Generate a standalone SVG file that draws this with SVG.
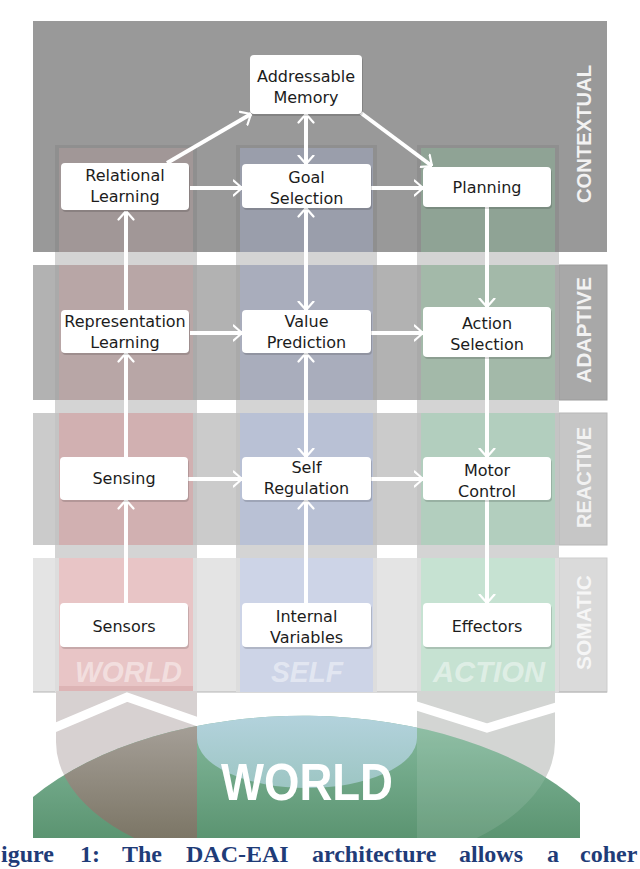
<svg xmlns="http://www.w3.org/2000/svg" width="640" height="869" viewBox="0 0 640 869">
<style>
.node rect.box{fill:#ffffff;}
.node rect.sh{fill:#000;opacity:0.14;}
.node text{font-family:"DejaVu Sans",Verdana,sans-serif;font-size:16px;fill:#1c1c1c;text-anchor:middle;}
.lay{font-family:"Liberation Sans",Arial,sans-serif;font-weight:bold;font-size:21px;text-anchor:middle;}
.col{font-family:"Liberation Sans",Arial,sans-serif;font-weight:bold;font-style:italic;font-size:30px;text-anchor:middle;fill:#ffffff;fill-opacity:0.45;}
.cap{font-family:"Liberation Serif","Times New Roman",serif;font-weight:bold;font-size:24px;fill:#1f3c78;}
#connectors line{stroke:#ffffff;stroke-width:4;fill:none;}
</style>
<defs>
<marker id="ah" markerUnits="userSpaceOnUse" viewBox="0 0 10 18" refX="9.5" refY="9" markerWidth="10" markerHeight="18" orient="auto-start-reverse">
<path d="M1,1.5 L9.5,9 L1,16.5" fill="none" stroke="#ffffff" stroke-width="2.2" stroke-linecap="round" stroke-linejoin="round"/>
</marker>
<clipPath id="dome"><path d="M33,838 L33,797 A330,191 0 0 1 580,803 L580,838 Z"/></clipPath>
<clipPath id="top838"><rect x="0" y="600" width="640" height="238"/></clipPath>
<clipPath id="wclip"><rect x="56" y="691" width="141" height="60"/></clipPath>
<clipPath id="aclip"><rect x="417" y="691" width="138" height="60"/></clipPath>
<path id="wStrip" d="M56,691 L56,742 A249.5,132 0 0 0 197,860.9 L197,691 Z"/>
<path id="aStrip" d="M417,691 L417,860.1 A249.5,132 0 0 0 555,742 L555,691 Z"/>
<linearGradient id="gGreen" x1="0" y1="0" x2="0" y2="1">
<stop offset="0" stop-color="#86bb9f"/><stop offset="1" stop-color="#5b9471"/>
</linearGradient>
<linearGradient id="gBrown" gradientUnits="userSpaceOnUse" x1="0" y1="730" x2="0" y2="838">
<stop offset="0" stop-color="#a39d95"/><stop offset="1" stop-color="#7c7666"/>
</linearGradient>
<linearGradient id="gBlue" gradientUnits="userSpaceOnUse" x1="0" y1="712" x2="0" y2="790">
<stop offset="0" stop-color="#b4d3de"/><stop offset="1" stop-color="#9cc5c2"/>
</linearGradient>
</defs>

<rect width="640" height="869" fill="#ffffff"/>

<!-- layer bands -->
<g id="bands">
<rect x="33" y="21" width="574" height="231" fill="#999999"/>
<rect x="33" y="265" width="574" height="135" fill="#b2b2b2"/>
<rect x="559" y="265" width="48" height="135" fill="#a8a8a8" stroke="#9c9c9c" stroke-width="1"/>
<rect x="33" y="413" width="574" height="132" fill="#cbcbcb"/>
<rect x="559" y="413" width="48" height="132" fill="#c6c6c6" stroke="#b8b8b8" stroke-width="1"/>
<rect x="33" y="558" width="574" height="134" fill="#e4e4e4"/>
<rect x="559" y="558" width="48" height="134" fill="#dadada" stroke="#cdcdcd" stroke-width="1"/>
<line x1="33" y1="692" x2="607" y2="692" stroke="#b4b4b4" stroke-width="1.2"/>
</g>

<!-- columns -->
<g id="columns">
<rect x="55" y="145" width="142" height="547" fill="#d4d4d4"/>
<rect x="236" y="145" width="141" height="547" fill="#d4d4d4"/>
<rect x="417" y="145" width="142" height="547" fill="#d4d4d4"/>
<rect x="55" y="145" width="142" height="107" fill="#8f8f8f"/>
<rect x="59" y="148" width="134" height="104" fill="#a19797"/>
<rect x="236" y="145" width="141" height="107" fill="#8f8f8f"/>
<rect x="240" y="148" width="133" height="104" fill="#9a9eab"/>
<rect x="417" y="145" width="142" height="107" fill="#8f8f8f"/>
<rect x="421" y="148" width="134" height="104" fill="#8fa395"/>
<rect x="55" y="265" width="142" height="135" fill="#aaaaaa"/>
<rect x="59" y="265" width="134" height="135" fill="#b8a6a6"/>
<rect x="236" y="265" width="141" height="135" fill="#aaaaaa"/>
<rect x="240" y="265" width="133" height="135" fill="#a9adbc"/>
<rect x="417" y="265" width="142" height="135" fill="#aaaaaa"/>
<rect x="421" y="265" width="134" height="135" fill="#a3b9a9"/>
<rect x="55" y="413" width="142" height="132" fill="#c4c4c4"/>
<rect x="59" y="413" width="134" height="132" fill="#d1b0b1"/>
<rect x="236" y="413" width="141" height="132" fill="#c4c4c4"/>
<rect x="240" y="413" width="133" height="132" fill="#b9c1d5"/>
<rect x="417" y="413" width="142" height="132" fill="#c4c4c4"/>
<rect x="421" y="413" width="134" height="132" fill="#b2cebe"/>
<rect x="55" y="558" width="142" height="134" fill="#dddddd"/>
<rect x="59" y="558" width="134" height="134" fill="#e8c5c6"/>
<rect x="59" y="686" width="134" height="6" fill="#ddb4b5"/>
<rect x="236" y="558" width="141" height="134" fill="#dddddd"/>
<rect x="240" y="558" width="133" height="134" fill="#cdd4e7"/>
<rect x="417" y="558" width="142" height="134" fill="#dddddd"/>
<rect x="421" y="558" width="134" height="134" fill="#c6e2d2"/>
</g>

<!-- layer labels -->
<g id="layer-labels">
<text class="lay" transform="translate(591,134) rotate(-90)" fill="#f2f2f2" textLength="138" lengthAdjust="spacingAndGlyphs">CONTEXTUAL</text>
<text class="lay" transform="translate(591,330) rotate(-90)" fill="#f2f2f2" textLength="106" lengthAdjust="spacingAndGlyphs">ADAPTIVE</text>
<text class="lay" transform="translate(591,477.5) rotate(-90)" fill="#f2f2f2" textLength="101" lengthAdjust="spacingAndGlyphs">REACTIVE</text>
<text class="lay" transform="translate(591,622.5) rotate(-90)" fill="#f6f6f6" textLength="95" lengthAdjust="spacingAndGlyphs">SOMATIC</text>
</g>

<!-- column labels -->
<g id="column-labels">
<text class="col" x="128.5" y="682" textLength="107" lengthAdjust="spacingAndGlyphs">WORLD</text>
<text class="col" x="307" y="682" textLength="72" lengthAdjust="spacingAndGlyphs">SELF</text>
<text class="col" x="489" y="682" textLength="112" lengthAdjust="spacingAndGlyphs">ACTION</text>
</g>

<!-- world base -->
<g id="world">
<g clip-path="url(#top838)">
<use href="#wStrip" fill="#d7d1d1"/>
<use href="#aStrip" fill="#d3d5d3"/>
</g>
<g clip-path="url(#wclip)">
<polyline points="45,731.7 127,697 207,725" fill="none" stroke="#ffffff" stroke-width="9" stroke-linejoin="miter"/>
</g>
<g clip-path="url(#aclip)">
<polyline points="407,703 487,728 565,704.5" fill="none" stroke="#ffffff" stroke-width="9" stroke-linejoin="miter"/>
</g>
<path d="M33,838 L33,797 A330,191 0 0 1 580,803 L580,838 Z" fill="url(#gGreen)"/>
<g clip-path="url(#dome)">
<use href="#wStrip" fill="url(#gBrown)"/>
<use href="#aStrip" fill="#ffffff" fill-opacity="0.1"/>
<path d="M197,691 L197,738 A110,50 0 0 0 417,738 L417,691 Z" fill="url(#gBlue)"/>
</g>
<text x="307" y="800" font-family="Liberation Sans, Arial, sans-serif" font-weight="bold" font-size="52" fill="#ffffff" text-anchor="middle" textLength="172" lengthAdjust="spacingAndGlyphs">WORLD</text>
</g>

<!-- connectors -->
<g id="connectors">
<line x1="167" y1="163" x2="251" y2="114" marker-end="url(#ah)"/>
<line x1="306" y1="114" x2="306" y2="164" marker-start="url(#ah)" marker-end="url(#ah)"/>
<line x1="361" y1="113" x2="432" y2="166" marker-end="url(#ah)"/>
<line x1="190" y1="188" x2="242" y2="188" marker-end="url(#ah)"/>
<line x1="371" y1="188" x2="423" y2="188" marker-end="url(#ah)"/>
<line x1="306" y1="208" x2="306" y2="310" marker-start="url(#ah)" marker-end="url(#ah)"/>
<line x1="487" y1="207" x2="487" y2="307" marker-end="url(#ah)"/>
<line x1="126" y1="310" x2="126" y2="211" marker-end="url(#ah)"/>
<line x1="190" y1="333" x2="242" y2="333" marker-end="url(#ah)"/>
<line x1="371" y1="333" x2="423" y2="333" marker-end="url(#ah)"/>
<line x1="306" y1="353" x2="306" y2="457" marker-start="url(#ah)" marker-end="url(#ah)"/>
<line x1="487" y1="357" x2="487" y2="457" marker-end="url(#ah)"/>
<line x1="126" y1="457" x2="126" y2="353" marker-end="url(#ah)"/>
<line x1="188" y1="479" x2="242" y2="479" marker-end="url(#ah)"/>
<line x1="371" y1="479" x2="423" y2="479" marker-end="url(#ah)"/>
<line x1="126" y1="603" x2="126" y2="500" marker-end="url(#ah)"/>
<line x1="306" y1="603" x2="306" y2="500" marker-end="url(#ah)"/>
<line x1="487" y1="500" x2="487" y2="603" marker-end="url(#ah)"/>
</g>

<!-- nodes -->
<g id="addressable-memory" class="node">
<rect class="sh" x="251" y="57" width="112" height="59" rx="4"/>
<rect class="box" x="250" y="55" width="112" height="59" rx="4"/>
<text x="306" y="82">Addressable</text><text x="306" y="103">Memory</text>
</g>
<g id="relational-learning" class="node">
<rect class="sh" x="62" y="165" width="128" height="47" rx="4"/>
<rect class="box" x="61" y="163" width="128" height="47" rx="4"/>
<text x="125" y="181">Relational</text><text x="125" y="202">Learning</text>
</g>
<g id="goal-selection" class="node">
<rect class="sh" x="243" y="166" width="129" height="44" rx="4"/>
<rect class="box" x="242" y="164" width="129" height="44" rx="4"/>
<text x="306.5" y="183">Goal</text><text x="306.5" y="204">Selection</text>
</g>
<g id="planning" class="node">
<rect class="sh" x="424" y="169" width="128" height="40" rx="4"/>
<rect class="box" x="423" y="167" width="128" height="40" rx="4"/>
<text x="487" y="193">Planning</text>
</g>
<g id="representation-learning" class="node">
<rect class="sh" x="62" y="312" width="128" height="43" rx="4"/>
<rect class="box" x="61" y="310" width="128" height="43" rx="4"/>
<text x="125" y="327">Representation</text><text x="125" y="348">Learning</text>
</g>
<g id="value-prediction" class="node">
<rect class="sh" x="243" y="312" width="129" height="43" rx="4"/>
<rect class="box" x="242" y="310" width="129" height="43" rx="4"/>
<text x="306.5" y="327">Value</text><text x="306.5" y="348">Prediction</text>
</g>
<g id="action-selection" class="node">
<rect class="sh" x="424" y="309" width="128" height="50" rx="4"/>
<rect class="box" x="423" y="307" width="128" height="50" rx="4"/>
<text x="487" y="329">Action</text><text x="487" y="350">Selection</text>
</g>
<g id="sensing" class="node">
<rect class="sh" x="61" y="459" width="128" height="43" rx="4"/>
<rect class="box" x="60" y="457" width="128" height="43" rx="4"/>
<text x="124" y="484">Sensing</text>
</g>
<g id="self-regulation" class="node">
<rect class="sh" x="243" y="459" width="129" height="43" rx="4"/>
<rect class="box" x="242" y="457" width="129" height="43" rx="4"/>
<text x="306.5" y="473">Self</text><text x="306.5" y="494">Regulation</text>
</g>
<g id="motor-control" class="node">
<rect class="sh" x="424" y="459" width="128" height="43" rx="4"/>
<rect class="box" x="423" y="457" width="128" height="43" rx="4"/>
<text x="487" y="476">Motor</text><text x="487" y="497">Control</text>
</g>
<g id="sensors" class="node">
<rect class="sh" x="61" y="605" width="128" height="44" rx="4"/>
<rect class="box" x="60" y="603" width="128" height="44" rx="4"/>
<text x="124" y="632">Sensors</text>
</g>
<g id="internal-variables" class="node">
<rect class="sh" x="243" y="605" width="129" height="44" rx="4"/>
<rect class="box" x="242" y="603" width="129" height="44" rx="4"/>
<text x="306.5" y="622">Internal</text><text x="306.5" y="643">Variables</text>
</g>
<g id="effectors" class="node">
<rect class="sh" x="424" y="605" width="128" height="44" rx="4"/>
<rect class="box" x="423" y="603" width="128" height="44" rx="4"/>
<text x="487" y="632">Effectors</text>
</g>

<!-- caption -->
<text class="cap" y="862"><tspan x="1">igure</tspan><tspan x="80">1:</tspan><tspan x="122">The</tspan><tspan x="186">DAC-EAI</tspan><tspan x="312">architecture</tspan><tspan x="459">allows</tspan><tspan x="547">a</tspan><tspan x="580">coher</tspan></text>
</svg>
